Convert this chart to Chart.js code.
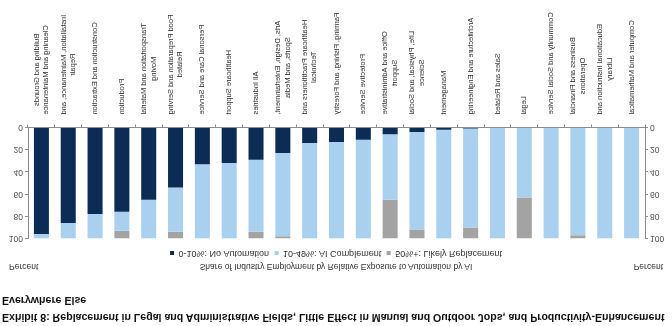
<!DOCTYPE html>
<html>
<head>
<meta charset="utf-8">
<script src="https://cdn.jsdelivr.net/npm/chart.js@4.4.1/dist/chart.umd.min.js"></script>
<style>
  html, body { margin: 0; padding: 0; background: #fff; }
  /* the reference picture is mirrored top to bottom, so the whole page is flipped */
  #page { position: relative; width: 672px; height: 326px; overflow: hidden;
          transform: scaleY(-1); font-family: "Liberation Sans", Arial, sans-serif; }
  #title { position: absolute; left: 2px; top: 0px; font-size: 10.6px; font-weight: bold;
           line-height: 17px; color: #111; white-space: nowrap; }
  .note { position: absolute; top: 54px; font-size: 8.5px; color: #333; white-space: nowrap; }
  #wrap { position: absolute; left: 0; top: 62.5px; width: 672px; height: 263.5px; }
</style>
</head>
<body>
<div id="page">
  <div id="title">Exhibit 8: Replacement in Legal and Administrative Fields, Little Effect in Manual and Outdoor Jobs, and Productivity-Enhancement<br>Everywhere Else</div>
  <div class="note" style="left:9px">Percent</div>
  <div class="note" style="left:0;width:672px;text-align:center">Share of Industry Employment by Relative Exposure to Automation by AI</div>
  <div class="note" style="right:9px">Percent</div>
  <div id="wrap"><canvas id="chart"></canvas></div>
</div>
<script>
const categories = [
  ["Building and Grounds", "Cleaning and Maintenance"],
  ["Installation, Maintenance, and", "Repair"],
  "Construction and Extraction",
  "Production",
  ["Transportation and Material", "Moving"],
  ["Food Preparation and Serving", "Related"],
  "Personal Care and Service",
  "Healthcare Support",
  "All Industries",
  ["Arts, Design, Entertainment,", "Sports, and Media"],
  ["Healthcare Practitioners and", "Technical"],
  "Farming, Fishing, and Forestry",
  "Protective Service",
  ["Office and Administrative", "Support"],
  ["Life, Physical, and Social", "Science"],
  "Management",
  "Architecture and Engineering",
  "Sales and Related",
  "Legal",
  "Community and Social Service",
  ["Business and Financial", "Operations"],
  ["Educational Instruction and", "Library"],
  "Computer and Mathematical",
];

const noAutomation = [96, 86, 78, 76, 65, 54, 33, 32, 29, 23, 14, 13, 11, 6, 4, 2, 1, 0, 0, 0, 0, 0, 0];
const aiComplement = [4, 14, 22, 17, 35, 40, 67, 68, 65, 75, 86, 87, 89, 59, 88, 98, 89, 100, 63, 100, 97, 100, 100];
const likelyReplacement = [0, 0, 0, 7, 0, 6, 0, 0, 6, 2, 0, 0, 0, 35, 8, 0, 10, 0, 37, 0, 3, 0, 0];

const yTicks = [0, 20, 40, 60, 80, 100];

const tickColor = "#555";
const axisColor = "#8c8c8c";

// category labels: rotated, block ends near the axis, lines centred inside the block (as in Excel)
const rotatedLabels = {
  id: "rotatedLabels",
  afterDraw(chart) {
    const ctx = chart.ctx;
    const xs = chart.scales.x;
    const lineH = 9.5;
    ctx.save();
    ctx.font = '7.5px "Liberation Sans", Arial, sans-serif';
    ctx.fillStyle = "#333";
    ctx.textAlign = "center";
    ctx.textBaseline = "middle";
    chart.data.labels.forEach((lab, i) => {
      const lines = Array.isArray(lab) ? lab : [lab];
      const w = Math.max(...lines.map((l) => ctx.measureText(l).width));
      ctx.save();
      ctx.translate(xs.getPixelForTick(i), xs.top + 13);
      ctx.rotate(-Math.PI / 2);
      lines.forEach((l, j) => {
        ctx.fillText(l, -w / 2, (j - (lines.length - 1) / 2) * lineH);
      });
      ctx.restore();
    });
    ctx.restore();
  },
};

function yAxis(position, width) {
  return {
    position: position,
    min: 0,
    max: 100,
    afterBuildTicks: (axis) => { axis.ticks = yTicks.map((v) => ({ value: v })); },
    afterFit: (axis) => { axis.width = width; },
    border: { display: true, color: axisColor },
    grid: { drawOnChartArea: false, drawTicks: true, tickLength: 3, color: axisColor },
    ticks: { color: tickColor, font: { size: 8.5 }, padding: 2 },
  };
}

new Chart(document.getElementById("chart"), {
  type: "bar",
  data: {
    labels: categories,
    datasets: [
      { label: "0-10%: No Automation", data: noAutomation, backgroundColor: "#0c2c55", yAxisID: "y" },
      { label: "10-49%: AI Complement", data: aiComplement, backgroundColor: "#aad0ef", yAxisID: "y" },
      { label: "50%+: Likely Replacement", data: likelyReplacement, backgroundColor: "#a3a3a3", yAxisID: "y" },
    ],
  },
  options: {
    responsive: true,
    maintainAspectRatio: false,
    animation: false,
    datasets: { bar: { categoryPercentage: 1, barPercentage: 0.56 } },
    layout: { padding: 0 },
    plugins: {
      tooltip: { enabled: false },
      legend: {
        position: "top",
        labels: {
          boxWidth: 4,
          boxHeight: 4,
          padding: 5.5,
          color: "#333",
          font: { size: 9 },
        },
      },
    },
    scales: {
      x: {
        stacked: true,
        afterFit: (axis) => { axis.height = 128; },
        border: { display: true, color: axisColor },
        grid: { drawOnChartArea: false, drawTicks: true, tickLength: 3, color: axisColor, offset: true },
        ticks: { display: false, autoSkip: false },
      },
      y: Object.assign(yAxis("left", 28), { stacked: true }),
      y1: yAxis("right", 27),
    },
  },
  plugins: [rotatedLabels],
});
</script>
</body>
</html>
